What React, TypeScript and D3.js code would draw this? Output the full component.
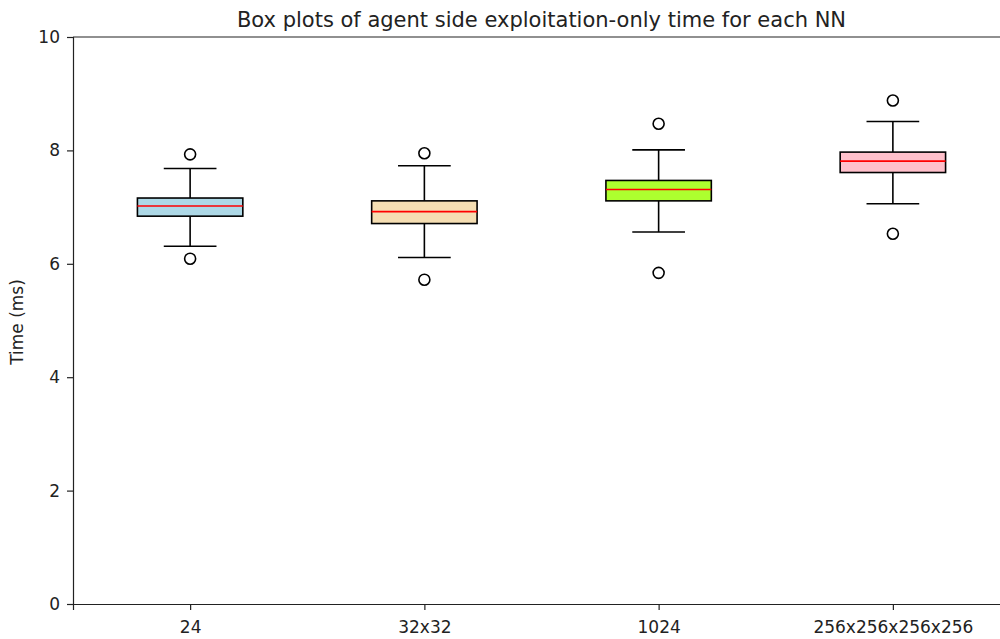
import React, { useRef, useEffect } from 'react';
import * as d3 from 'd3';

const categories = ['24', '32x32', '1024', '256x256x256x256'];
const boxColors = ['#add8e6', '#f5deb3', '#adff2f', '#ffc0cb'];
// [whiskerLow, q1, median, q3, whiskerHigh]
const boxStats = [
	[6.31, 6.84, 7.02, 7.16, 7.68],
	[6.11, 6.71, 6.92, 7.11, 7.73],
	[6.56, 7.11, 7.31, 7.47, 8.01],
	[7.06, 7.61, 7.81, 7.97, 8.51],
];
const outliers = [
	[7.93, 6.09],
	[7.95, 5.72],
	[8.47, 5.84],
	[8.88, 6.53],
];
const yTicks = [0, 2, 4, 6, 8, 10];

export default function App() {
	const svgWidth = 1000;
	const svgHeight = 639;
	const chartRef = useRef<SVGSVGElement>(null);

	useEffect(() => {
		if (!chartRef.current) return;
		const margin = { top: 37, left: 73 };
		const width = 937;
		const height = 567;

		const root = d3.select(chartRef.current);
		root.selectAll('*').remove();

		const svg = root.append('g').attr('transform', `translate(${margin.left},${margin.top})`);

		// matplotlib positions 1..n, xlim 0.5..n+0.5
		const xScale = d3.scaleLinear().domain([0.5, categories.length + 0.5]).range([0, width]);
		const yScale = d3.scaleLinear().domain([0, 10]).range([height, 0]);
		const unit = xScale(2) - xScale(1);
		const boxW = unit * 0.45;
		const capW = boxW / 2;

		const xAxis = d3
			.axisBottom(xScale)
			.tickValues(categories.map((c, i) => i + 1))
			.tickFormat((d, i) => categories[i])
			.tickSizeOuter(0)
			.tickSize(6);
		const yAxis = d3.axisLeft(yScale).tickValues(yTicks).tickFormat(d3.format('d')).tickSizeOuter(0).tickSize(6);

		const gx = svg.append('g').attr('transform', `translate(0,${height})`).call(xAxis);
		const gy = svg.append('g').call(yAxis);
		[gx, gy].forEach((g) => {
			g.select('.domain').attr('stroke', '#222').attr('stroke-width', 1.2);
			g.selectAll('.tick line').attr('stroke', '#222').attr('stroke-width', 1.2);
			g.selectAll('.tick text')
				.attr('fill', '#222')
				.style('font-family', 'DejaVu Sans')
				.style('font-size', '17px');
		});
		gx.selectAll('.tick text').attr('y', 29).attr('dy', 0);
		gy.selectAll('.tick text').attr('x', -13);

		// top spine
		svg.append('line')
			.attr('x1', 0)
			.attr('x2', width)
			.attr('y1', 0)
			.attr('y2', 0)
			.attr('stroke', '#222')
			.attr('stroke-width', 1.2);

		boxStats.forEach((s, i) => {
			const cx = xScale(i + 1);
			const g = svg.append('g');
			// whiskers
			g.append('line').attr('x1', cx).attr('x2', cx).attr('y1', yScale(s[0])).attr('y2', yScale(s[1])).attr('stroke', 'black').attr('stroke-width', 1.6);
			g.append('line').attr('x1', cx).attr('x2', cx).attr('y1', yScale(s[3])).attr('y2', yScale(s[4])).attr('stroke', 'black').attr('stroke-width', 1.6);
			// caps
			[s[0], s[4]].forEach((v) => {
				g.append('line')
					.attr('x1', cx - capW / 2)
					.attr('x2', cx + capW / 2)
					.attr('y1', yScale(v))
					.attr('y2', yScale(v))
					.attr('stroke', 'black')
					.attr('stroke-width', 1.6);
			});
			// box
			g.append('rect')
				.attr('x', cx - boxW / 2)
				.attr('y', yScale(s[3]))
				.attr('width', boxW)
				.attr('height', yScale(s[1]) - yScale(s[3]))
				.attr('fill', boxColors[i])
				.attr('stroke', 'black')
				.attr('stroke-width', 1.6);
			// median
			g.append('line')
				.attr('x1', cx - boxW / 2)
				.attr('x2', cx + boxW / 2)
				.attr('y1', yScale(s[2]))
				.attr('y2', yScale(s[2]))
				.attr('stroke', 'red')
				.attr('stroke-width', 1.6);
			// fliers
			outliers[i].forEach((v) => {
				g.append('circle').attr('cx', cx).attr('cy', yScale(v)).attr('r', 5.5).attr('fill', 'none').attr('stroke', 'black').attr('stroke-width', 1.6);
			});
		});

		svg.append('text')
			.attr('text-anchor', 'middle')
			.attr('x', width / 2)
			.attr('y', -10)
			.style('font-family', 'DejaVu Sans')
			.style('font-size', '21px')
			.attr('fill', '#222')
			.text('Box plots of agent side exploitation-only time for each NN');

		svg.append('text')
			.attr('text-anchor', 'middle')
			.attr('transform', 'rotate(-90)')
			.attr('x', -285)
			.attr('y', -margin.left + 23)
			.style('font-family', 'DejaVu Sans')
			.style('font-size', '17px')
			.attr('fill', '#222')
			.text('Time (ms)');
	}, []);

	return (
		<svg
			ref={chartRef}
			width={svgWidth}
			height={svgHeight}
			style={{ position: 'absolute', left: 0, top: 0, background: 'white' }}
		/>
	);
}
